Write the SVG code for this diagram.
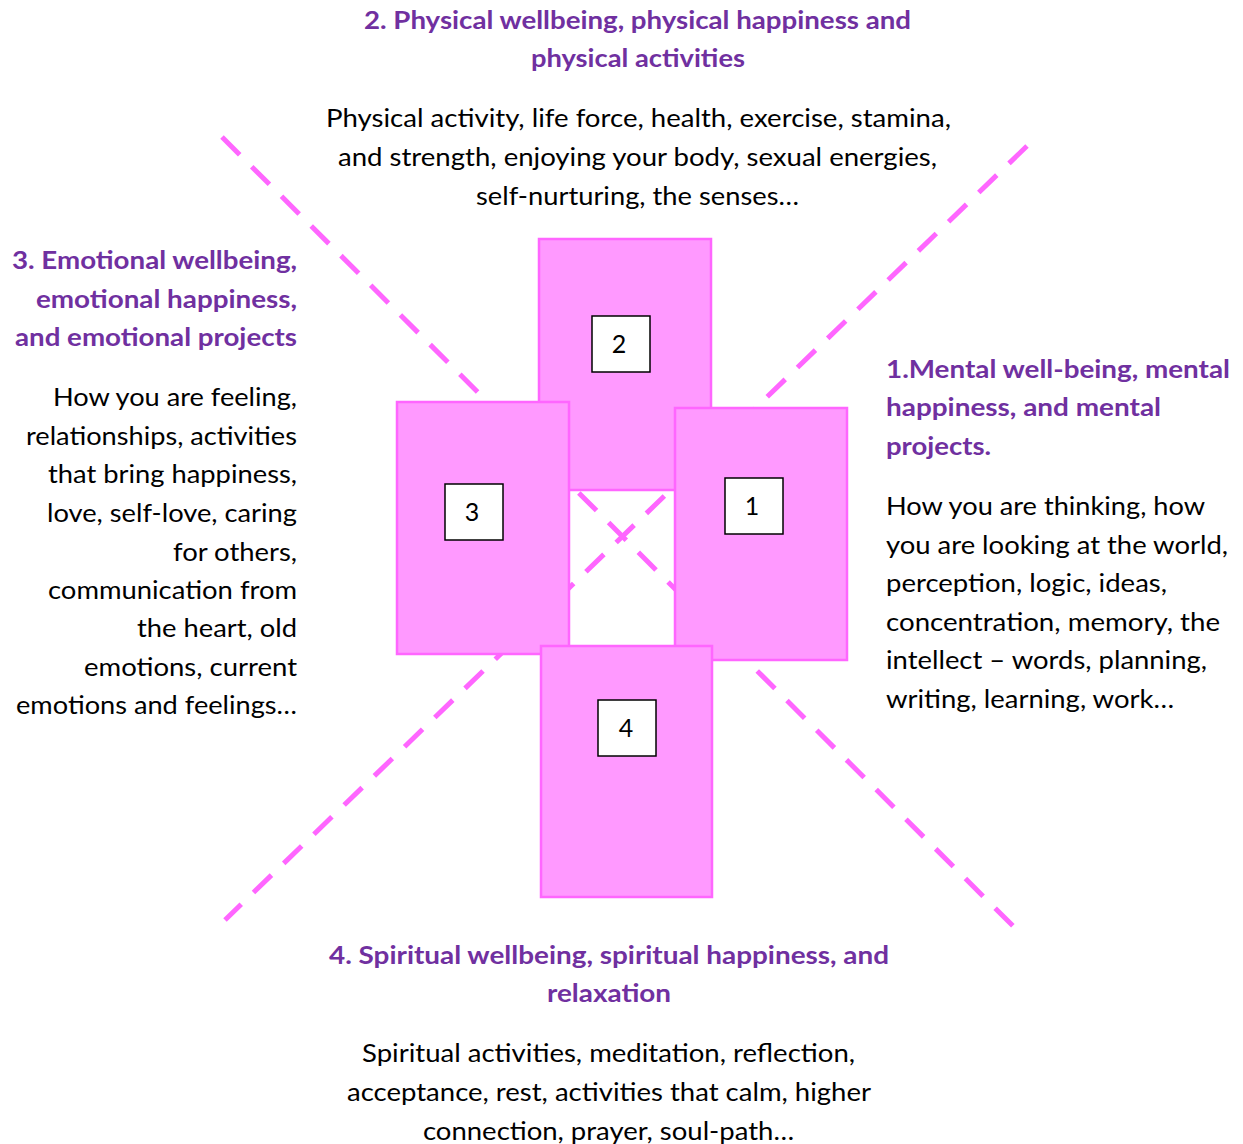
<svg xmlns="http://www.w3.org/2000/svg" width="1243" height="1144" viewBox="0 0 1243 1144">
  <style>
    .axis { stroke: #FF66FF; stroke-width: 5; stroke-dasharray: 25 17; fill: none; }
    .panel { fill: #FF99FF; stroke: #FF66FF; stroke-width: 2.5; }
    .tag { fill: #FFFFFF; stroke: #000000; stroke-width: 1.5; }
    .num { font-family: Lato, "Open Sans", "Liberation Sans", sans-serif; font-size: 25px; fill: #000; text-anchor: middle; }
    .head { font-family: Lato, "Open Sans", "Liberation Sans", sans-serif; font-size: 25px; font-weight: bold; fill: #7030A0; }
    .body { font-family: Lato, "Open Sans", "Liberation Sans", sans-serif; font-size: 25px; fill: #000; }
  </style>

  <!-- dashed diagonals crossing behind the panels -->
  <g id="connectors">
    <line class="axis" x1="222" y1="137" x2="1013" y2="926"/>
    <line class="axis" x1="1027" y1="146" x2="225" y2="920"/>
  </g>

  <!-- 2: physical -->
  <g id="node-2">
    <rect class="panel" x="539" y="239" width="172" height="251"/>
    <rect class="tag" x="592" y="316" width="58" height="56"/>
    <text class="num" x="619" y="353">2</text>
  </g>

  <!-- 3: emotional -->
  <g id="node-3">
    <rect class="panel" x="397" y="402" width="172" height="252"/>
    <rect class="tag" x="445" y="484" width="58" height="56"/>
    <text class="num" x="472" y="521">3</text>
  </g>

  <!-- 1: mental -->
  <g id="node-1">
    <rect class="panel" x="675" y="408" width="172" height="252"/>
    <rect class="tag" x="725" y="478" width="58" height="56"/>
    <text class="num" x="752" y="515">1</text>
  </g>

  <!-- 4: spiritual -->
  <g id="node-4">
    <rect class="panel" x="541" y="646" width="171" height="251"/>
    <rect class="tag" x="598" y="700" width="58" height="56"/>
    <text class="num" x="626" y="737">4</text>
  </g>

  <!-- label: physical (top) -->
  <g id="label-2">
    <text class="head" x="364" y="29" textLength="547" lengthAdjust="spacingAndGlyphs">2. Physical wellbeing, physical happiness and</text>
    <text class="head" x="531" y="67" textLength="214" lengthAdjust="spacingAndGlyphs">physical activities</text>
    <text class="body" x="326" y="127" textLength="625" lengthAdjust="spacingAndGlyphs">Physical activity, life force, health, exercise, stamina,</text>
    <text class="body" x="338" y="166" textLength="599" lengthAdjust="spacingAndGlyphs">and strength, enjoying your body, sexual energies,</text>
    <text class="body" x="476" y="205" textLength="323" lengthAdjust="spacingAndGlyphs">self-nurturing, the senses…</text>
  </g>

  <!-- label: emotional (left) -->
  <g id="label-3">
    <text class="head" x="12" y="269" textLength="285" lengthAdjust="spacingAndGlyphs">3. Emotional wellbeing,</text>
    <text class="head" x="36" y="308" textLength="261" lengthAdjust="spacingAndGlyphs">emotional happiness,</text>
    <text class="head" x="15" y="346" textLength="282" lengthAdjust="spacingAndGlyphs">and emotional projects</text>
    <text class="body" x="53" y="406" textLength="244" lengthAdjust="spacingAndGlyphs">How you are feeling,</text>
    <text class="body" x="26" y="445" textLength="271" lengthAdjust="spacingAndGlyphs">relationships, activities</text>
    <text class="body" x="48" y="483" textLength="249" lengthAdjust="spacingAndGlyphs">that bring happiness,</text>
    <text class="body" x="47" y="522" textLength="250" lengthAdjust="spacingAndGlyphs">love, self-love, caring</text>
    <text class="body" x="173" y="561" textLength="124" lengthAdjust="spacingAndGlyphs">for others,</text>
    <text class="body" x="48" y="599" textLength="249" lengthAdjust="spacingAndGlyphs">communication from</text>
    <text class="body" x="137" y="637" textLength="160" lengthAdjust="spacingAndGlyphs">the heart, old</text>
    <text class="body" x="84" y="676" textLength="213" lengthAdjust="spacingAndGlyphs">emotions, current</text>
    <text class="body" x="16" y="714" textLength="281" lengthAdjust="spacingAndGlyphs">emotions and feelings…</text>
  </g>

  <!-- label: mental (right) -->
  <g id="label-1">
    <text class="head" x="886" y="378" textLength="344" lengthAdjust="spacingAndGlyphs">1.Mental well-being, mental</text>
    <text class="head" x="886" y="416" textLength="275" lengthAdjust="spacingAndGlyphs">happiness, and mental</text>
    <text class="head" x="886" y="455" textLength="105" lengthAdjust="spacingAndGlyphs">projects.</text>
    <text class="body" x="886" y="515" textLength="319" lengthAdjust="spacingAndGlyphs">How you are thinking, how</text>
    <text class="body" x="886" y="554" textLength="342" lengthAdjust="spacingAndGlyphs">you are looking at the world,</text>
    <text class="body" x="886" y="592" textLength="281" lengthAdjust="spacingAndGlyphs">perception, logic, ideas,</text>
    <text class="body" x="886" y="631" textLength="334" lengthAdjust="spacingAndGlyphs">concentration, memory, the</text>
    <text class="body" x="886" y="669" textLength="321" lengthAdjust="spacingAndGlyphs">intellect – words, planning,</text>
    <text class="body" x="886" y="708" textLength="288" lengthAdjust="spacingAndGlyphs">writing, learning, work…</text>
  </g>

  <!-- label: spiritual (bottom) -->
  <g id="label-4">
    <text class="head" x="329" y="964" textLength="560" lengthAdjust="spacingAndGlyphs">4. Spiritual wellbeing, spiritual happiness, and</text>
    <text class="head" x="547" y="1002" textLength="124" lengthAdjust="spacingAndGlyphs">relaxation</text>
    <text class="body" x="362" y="1062" textLength="493" lengthAdjust="spacingAndGlyphs">Spiritual activities, meditation, reflection,</text>
    <text class="body" x="347" y="1101" textLength="524" lengthAdjust="spacingAndGlyphs">acceptance, rest, activities that calm, higher</text>
    <text class="body" x="423" y="1140" textLength="371" lengthAdjust="spacingAndGlyphs">connection, prayer, soul-path…</text>
  </g>
</svg>
